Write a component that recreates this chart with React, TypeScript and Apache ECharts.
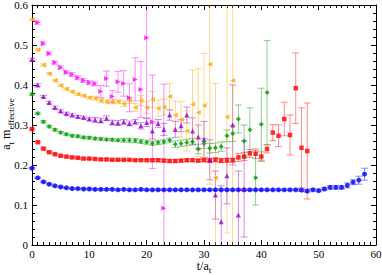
import React, { useEffect, useRef } from "react";
import * as echarts from "echarts";

// t/a_t values are the array index (+ start offset)
const X_TICKS = [0, 10, 20, 30, 40, 50, 60];
const Y_TICKS = [0, 0.1, 0.2, 0.3, 0.4, 0.5, 0.6];
const X_TITLE = [{ text: "t/a", sub: false }, { text: "t", sub: true }];
const Y_TITLE = [{ text: "a", sub: false }, { text: "t", sub: true }, { text: " m", sub: false }, { text: "effective", sub: true }];

const blueM = [0.192, 0.168, 0.158, 0.152, 0.148, 0.145, 0.143, 0.141, 0.141, 0.140, 0.140, 0.139, 0.139, 0.139, 0.139, 0.138, 0.139, 0.138, 0.138, 0.139, 0.138, 0.138, 0.138, 0.138, 0.138, 0.138, 0.138, 0.138, 0.138, 0.138, 0.138, 0.138, 0.138, 0.138, 0.138, 0.138, 0.138, 0.138, 0.138, 0.138, 0.138, 0.138, 0.138, 0.138, 0.138, 0.138, 0.138, 0.137, 0.135, 0.138, 0.136, 0.140, 0.144, 0.144, 0.144, 0.149, 0.157, 0.162, 0.177];
const blueE = [0.002, 0.002, 0.002, 0.002, 0.002, 0.002, 0.002, 0.002, 0.002, 0.002, 0.002, 0.002, 0.002, 0.002, 0.002, 0.002, 0.002, 0.002, 0.002, 0.002, 0.002, 0.002, 0.002, 0.002, 0.002, 0.002, 0.002, 0.002, 0.002, 0.002, 0.002, 0.002, 0.002, 0.002, 0.002, 0.002, 0.002, 0.002, 0.002, 0.002, 0.002, 0.002, 0.002, 0.002, 0.002, 0.002, 0.002, 0.003, 0.003, 0.003, 0.003, 0.003, 0.004, 0.004, 0.004, 0.006, 0.006, 0.010, 0.015];

const redM = [0.290, 0.257, 0.241, 0.232, 0.227, 0.223, 0.221, 0.219, 0.218, 0.216, 0.216, 0.215, 0.214, 0.214, 0.213, 0.213, 0.213, 0.213, 0.212, 0.212, 0.212, 0.212, 0.212, 0.211, 0.210, 0.210, 0.211, 0.212, 0.212, 0.211, 0.212, 0.211, 0.213, 0.211, 0.212, 0.212, 0.219, 0.221, 0.229, 0.228, 0.221, 0.240, 0.281, 0.273, 0.315, 0.275, 0.392, 0.243, 0.235];
const redE = [0.002, 0.002, 0.002, 0.002, 0.002, 0.002, 0.002, 0.002, 0.002, 0.002, 0.002, 0.002, 0.002, 0.002, 0.002, 0.002, 0.002, 0.002, 0.002, 0.002, 0.002, 0.003, 0.003, 0.003, 0.003, 0.003, 0.003, 0.003, 0.003, 0.003, 0.003, 0.005, 0.005, 0.005, 0.005, 0.005, 0.010, 0.010, 0.010, 0.012, 0.012, 0.010, 0.020, 0.027, 0.042, 0.050, 0.088, 0.100, 0.120];

const greenM = [0.377, 0.329, 0.308, 0.296, 0.288, 0.281, 0.277, 0.273, 0.272, 0.269, 0.268, 0.266, 0.265, 0.264, 0.263, 0.262, 0.262, 0.262, 0.261, 0.259, 0.257, 0.254, 0.256, 0.258, 0.262, 0.252, 0.254, 0.256, 0.258, 0.240, 0.254, 0.242, 0.243, 0.246, 0.273, 0.279, 0.315, 0.260, 0.288, 0.168, 0.302, 0.381];
const greenE = [0.003, 0.003, 0.003, 0.003, 0.003, 0.003, 0.003, 0.003, 0.003, 0.003, 0.003, 0.003, 0.003, 0.003, 0.003, 0.003, 0.005, 0.005, 0.005, 0.005, 0.005, 0.005, 0.005, 0.005, 0.005, 0.008, 0.008, 0.008, 0.008, 0.012, 0.012, 0.012, 0.012, 0.012, 0.015, 0.020, 0.035, 0.040, 0.055, 0.068, 0.090, 0.130];

const purpleM = [0.464, 0.400, 0.371, 0.356, 0.344, 0.335, 0.329, 0.325, 0.321, 0.319, 0.315, 0.313, 0.311, 0.317, 0.306, 0.305, 0.308, 0.304, 0.308, 0.298, 0.306, 0.285, 0.304, 0.289, 0.325, 0.289, 0.298, 0.325, 0.285, 0.270, 0.264, 0.213, 0.125, 0.058, 0.173, 0.300, 0.075, 0.140];
const purpleE = [0.003, 0.003, 0.003, 0.003, 0.003, 0.003, 0.003, 0.003, 0.003, 0.003, 0.003, 0.006, 0.006, 0.006, 0.006, 0.006, 0.006, 0.006, 0.006, 0.008, 0.010, 0.020, 0.010, 0.015, 0.013, 0.020, 0.015, 0.020, 0.033, 0.030, 0.045, 0.050, 0.060, 0.090, 0.070, 0.100, 0.110, 0.120];

const orangeM = [0.564, 0.488, 0.450, 0.428, 0.411, 0.399, 0.390, 0.383, 0.377, 0.373, 0.368, 0.367, 0.361, 0.358, 0.358, 0.358, 0.353, 0.362, 0.344, 0.361, 0.344, 0.364, 0.342, 0.345, 0.371, 0.325, 0.314, 0.285, 0.352, 0.331, 0.349, 0.452, 0.168, null, 0.320, 0.411];
const orangeE = [0.003, 0.003, 0.003, 0.003, 0.003, 0.003, 0.003, 0.003, 0.003, 0.003, 0.003, 0.005, 0.005, 0.005, 0.005, 0.005, 0.007, 0.008, 0.010, 0.012, 0.015, 0.020, 0.020, 0.020, 0.033, 0.035, 0.044, 0.050, 0.085, 0.110, 0.130, 0.300, 0.236, null, 0.290, 0.450];

// magenta starts at t = 1
const magentaM = [0.556, 0.504, 0.479, 0.456, 0.444, 0.432, 0.426, 0.418, 0.411, 0.406, 0.403, 0.384, 0.416, 0.371, 0.408, 0.404, 0.368, 0.414, 0.389, 0.518, 0.308, null, 0.092];
const magentaE = [0.004, 0.004, 0.004, 0.004, 0.004, 0.004, 0.005, 0.005, 0.005, 0.005, 0.005, 0.015, 0.019, 0.015, 0.026, 0.032, 0.035, 0.054, 0.070, 0.200, 0.117, null, 0.310];

const SETS = [
  { name: "blue", color: "#0000ff", symbol: "circle", rot: 0, size: 5, start: 0, m: blueM, e: blueE },
  { name: "red", color: "#ff0000", symbol: "rect", rot: 0, size: 4.5, start: 0, m: redM, e: redE },
  { name: "green", color: "#009a00", symbol: "diamond", rot: 0, size: 5, start: 0, m: greenM, e: greenE },
  { name: "purple", color: "#9400d3", symbol: "triangle", rot: 0, size: 5, start: 0, m: purpleM, e: purpleE },
  { name: "orange", color: "#ffa500", symbol: "triangle", rot: 90, size: 5, start: 0, m: orangeM, e: orangeE },
  { name: "magenta", color: "#ff00ff", symbol: "triangle", rot: -90, size: 5, start: 1, m: magentaM, e: magentaE },
];

const YMIN = 0;
const YMAX = 0.6;
const SERIF = "'Liberation Serif', 'Times New Roman', 'DejaVu Serif', serif";
const MAIN_SIZE = 12;
const SUB_SIZE = 9;

function buildTitle(pieces: { text: string; sub: boolean }[], subDy: number) {
  const ctx = document.createElement("canvas").getContext("2d");
  let x = 0;
  const children: any[] = [];
  pieces.forEach((p) => {
    const size = p.sub ? SUB_SIZE : MAIN_SIZE;
    const font = `${size}px ${SERIF}`;
    let w = p.text.length * size * 0.5;
    if (ctx) {
      ctx.font = font;
      w = ctx.measureText(p.text).width;
    }
    children.push({
      type: "text",
      x,
      y: p.sub ? subDy : 0,
      style: {
        text: p.text,
        font,
        fill: "#000",
        align: "left",
        verticalAlign: "middle",
        textAlign: "left",
        textVerticalAlign: "middle",
      },
    });
    x += w;
  });
  return { children, width: x };
}

export default function App() {
  const ref = useRef<HTMLDivElement>(null);
  useEffect(() => {
    if (!ref.current) return;
    const chart = echarts.init(ref.current, null, { renderer: "svg" });
    const series: any[] = [];
    SETS.forEach((s) => {
      const pts: number[][] = [];
      const errs: number[][] = [];
      s.m.forEach((v, i) => {
        if (v === null || v === undefined) return;
        const t = i + s.start;
        pts.push([t, v as number]);
        errs.push([t, v as number, (s.e[i] as number) || 0]);
      });
      series.push({
        type: "custom",
        name: s.name + "-err",
        data: errs,
        encode: { x: 0, y: 1 },
        silent: true,
        renderItem: (params: any, api: any) => {
          const t = api.value(0);
          const v = api.value(1);
          const e = api.value(2);
          const hiV = v + e;
          const loV = v - e;
          const top = api.coord([t, Math.min(hiV, YMAX)]);
          const bot = api.coord([t, Math.max(loV, YMIN)]);
          const st = { stroke: s.color, lineWidth: 1, opacity: 0.45 };
          const ch: any[] = [
            { type: "line", shape: { x1: top[0], y1: top[1], x2: bot[0], y2: bot[1] }, style: st },
          ];
          const cw = 3.5;
          if (hiV <= YMAX) ch.push({ type: "line", shape: { x1: top[0] - cw, y1: top[1], x2: top[0] + cw, y2: top[1] }, style: st });
          if (loV >= YMIN) ch.push({ type: "line", shape: { x1: bot[0] - cw, y1: bot[1], x2: bot[0] + cw, y2: bot[1] }, style: st });
          return { type: "group", children: ch };
        },
        z: 2,
      });
      series.push({
        type: "scatter",
        name: s.name,
        data: pts,
        symbol: s.symbol,
        symbolSize: s.size,
        symbolRotate: s.rot,
        itemStyle: { color: s.color },
        silent: true,
        z: 3,
      });
    });

    const axisBase = {
      type: "value",
      axisLine: { show: true, onZero: false, lineStyle: { color: "#000", width: 1 } },
      axisTick: { show: true, inside: true, length: 5, lineStyle: { color: "#000" } },
      minorTick: { show: true, length: 3, lineStyle: { color: "#000" } },
      splitLine: { show: false },
      minorSplitLine: { show: false },
    };

    const xt = buildTitle(X_TITLE, 4);
    const yt = buildTitle(Y_TITLE, 5);

    chart.setOption({
      animation: false,
      backgroundColor: "#fff",
      grid: { left: 32, right: 6, top: 5, bottom: 30, containLabel: false, outerBoundsMode: "none" },
      xAxis: [
        {
          ...axisBase,
          position: "bottom",
          min: X_TICKS[0],
          max: X_TICKS[X_TICKS.length - 1],
          interval: 10,
          minorTick: { ...axisBase.minorTick, splitNumber: 10 },
          axisLabel: { show: true, fontFamily: SERIF, fontSize: 11, color: "#000", margin: 3 },
        },
        {
          ...axisBase,
          position: "top",
          min: X_TICKS[0],
          max: X_TICKS[X_TICKS.length - 1],
          interval: 10,
          minorTick: { ...axisBase.minorTick, splitNumber: 10 },
          axisLabel: { show: false },
        },
      ],
      yAxis: [
        {
          ...axisBase,
          position: "left",
          min: Y_TICKS[0],
          max: Y_TICKS[Y_TICKS.length - 1],
          interval: 0.1,
          minorTick: { ...axisBase.minorTick, splitNumber: 5 },
          axisLabel: {
            show: true,
            fontFamily: SERIF,
            fontSize: 11,
            color: "#000",
            margin: 4,
            formatter: (v: number) => (Math.abs(v) < 1e-9 ? "0" : v.toFixed(1)),
          },
        },
        {
          ...axisBase,
          position: "right",
          min: Y_TICKS[0],
          max: Y_TICKS[Y_TICKS.length - 1],
          interval: 0.1,
          minorTick: { ...axisBase.minorTick, splitNumber: 5 },
          axisLabel: { show: false },
        },
      ],
      graphic: [
        { type: "group", x: 204 - xt.width / 2, y: 265.5, children: xt.children },
        { type: "group", x: 6, y: 124 + yt.width / 2, rotation: Math.PI / 2, children: yt.children },
      ],
      series,
    });
    return () => chart.dispose();
  }, []);
  return <div ref={ref} style={{ position: "fixed", left: 0, top: 0, width: 382, height: 275, background: "#fff" }} />;
}
